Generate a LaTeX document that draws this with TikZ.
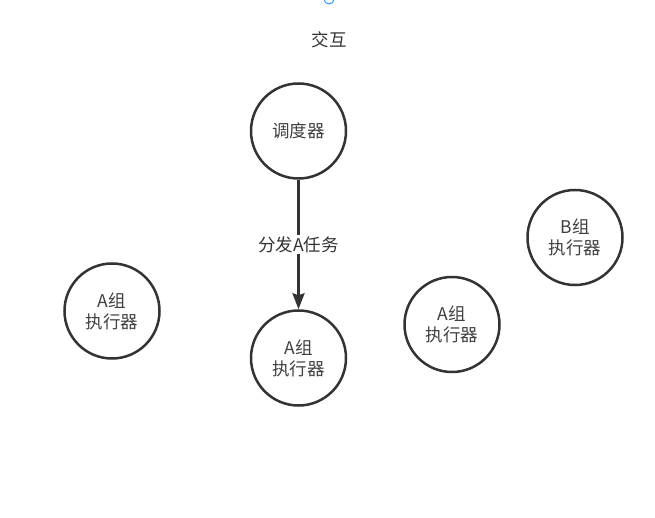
\documentclass[tikz,border=0pt]{standalone}
\usepackage{fontspec}
\setmainfont{Noto Sans CJK SC}
\usetikzlibrary{arrows.meta}

\tikzset{
  executor/.style={circle, draw=black!80, line width=2.5pt, minimum size=95pt,
    inner sep=0pt, align=center, text=black!75, font=\fontsize{17.5}{21}\selectfont},
  tasklabel/.style={fill=white, inner sep=1pt, text=black!80, font=\fontsize{17.5}{21}\selectfont},
  dispatch/.style={draw=black!80, line width=2.5pt, -{Stealth[width=12pt,length=16pt,inset=2pt]}}
}

\begin{document}
\begin{tikzpicture}[x=1pt,y=-1pt]
\useasboundingbox (0,0) rectangle (655,518);

% handle at the top edge
\node[circle, draw={rgb,255:red,51;green,153;blue,255}, line width=1pt, minimum size=10pt, inner sep=0pt] (handle) at (329,-1) {};

% title
\node[text=black!80, font=\fontsize{17.5}{21}\selectfont] (title) at (329,40) {交互};

% scheduler and executors
\node[executor] (sched) at (298.5,131) {调度器};
\node[executor] (execL) at (112,311) {A组\\执行器};
\node[executor] (execM) at (298.5,358) {A组\\执行器};
\node[executor] (execR) at (452,324.5) {A组\\执行器};
\node[executor] (execB) at (575,237.5) {B组\\执行器};

% dispatch A
\draw[dispatch] (sched) -- node[tasklabel] (task) {分发A任务} (execM);

\end{tikzpicture}
\end{document}
